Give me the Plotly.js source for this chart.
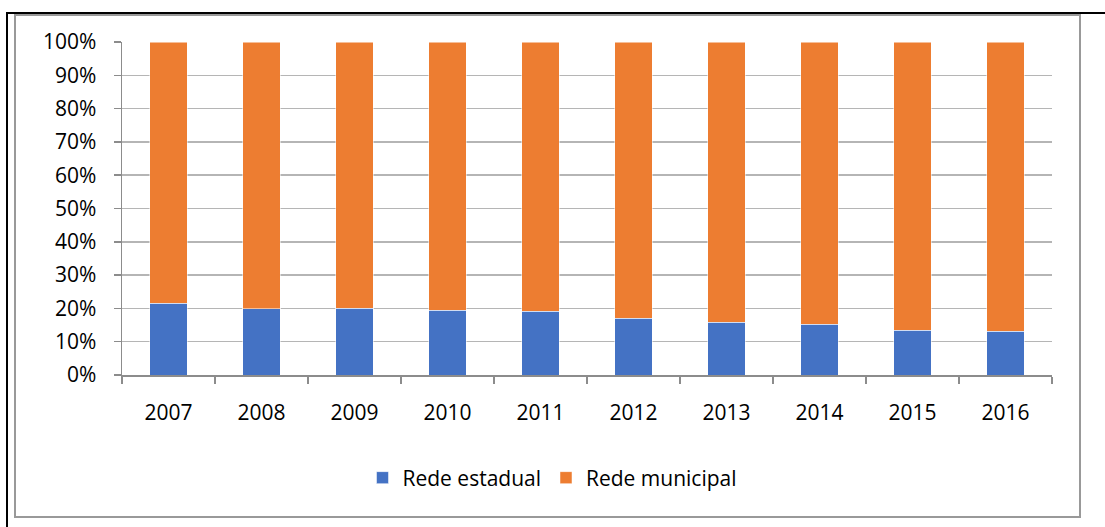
<!DOCTYPE html>
<html>
<head>
<meta charset="utf-8">
<script src="https://cdn.plot.ly/plotly-3.0.1.min.js"></script>
<style>
  html, body { margin: 0; padding: 0; background: #fff; }
  #wrap { position: relative; width: 1105px; height: 527px; overflow: hidden; }
  #chart { position: absolute; left: 0; top: 0; width: 1105px; height: 527px; }
  #outer { position: absolute; left: 6px; top: 12px; width: 1110px; height: 530px;
           border-left: 2px solid #000; border-top: 2px solid #000; pointer-events: none; }
  #inner { position: absolute; left: 14px; top: 14px; width: 1063px; height: 500px;
           border: 2px solid #999; pointer-events: none; }
</style>
</head>
<body>
<div id="wrap">
  <div id="chart"></div>
  <div id="outer"></div>
  <div id="inner"></div>
</div>
<script>
const years = ['2007','2008','2009','2010','2011','2012','2013','2014','2015','2016'];
const redeEstadual = [0.215, 0.199, 0.201, 0.194, 0.192, 0.170, 0.158, 0.152, 0.134, 0.131];
const redeMunicipal = redeEstadual.map(v => 1 - v);
const seriesNames = ['Rede estadual', 'Rede municipal'];
const yTickVals = [0,0.1,0.2,0.3,0.4,0.5,0.6,0.7,0.8,0.9,1.0];

const font = "'Open Sans', 'Noto Sans', sans-serif";

const data = [
  { type: 'bar', name: seriesNames[0], x: years, y: redeEstadual,
    marker: { color: '#4472C4', line: { color: 'rgba(255,255,255,0.5)', width: 1 } }, hoverinfo: 'skip' },
  { type: 'bar', name: seriesNames[1], x: years, y: redeMunicipal,
    marker: { color: '#ED7D31', line: { color: 'rgba(255,255,255,0.5)', width: 1 } }, hoverinfo: 'skip' }
];

const layout = {
  width: 1105, height: 527,
  margin: { l: 122, r: 53, t: 42, b: 152 },
  barmode: 'stack',
  bargap: 0.6,
  paper_bgcolor: '#fff', plot_bgcolor: '#fff',
  font: { family: font, size: 21, color: '#000' },
  showlegend: true,
  legend: {
    orientation: 'h', xref: 'container', yref: 'container',
    x: 0.5, xanchor: 'center', y: 0.093, yanchor: 'middle',
    font: { family: font, size: 21, color: '#000' },
    traceorder: 'normal', itemclick: false, itemdoubleclick: false
  },
  xaxis: {
    type: 'category', showgrid: false, showline: true, linecolor: '#8c8c8c', linewidth: 1.5,
    ticks: 'outside', tickson: 'boundaries', ticklen: 7, tickcolor: '#8c8c8c', tickwidth: 1.5,
    tickfont: { family: font, size: 21, color: '#000' }, ticklabelstandoff: 18,
    fixedrange: true
  },
  yaxis: {
    range: [0, 1], tickvals: yTickVals, tickformat: '.0%',
    showgrid: true, gridcolor: '#b5b5b5', gridwidth: 1.5,
    showline: true, linecolor: '#8c8c8c', linewidth: 1.5,
    ticks: 'outside', ticklen: 7, tickcolor: '#8c8c8c', tickwidth: 1.5,
    tickfont: { family: font, size: 21, color: '#000' }, ticklabelstandoff: 13,
    zeroline: false, fixedrange: true
  }
};

Plotly.newPlot('chart', data, layout, { displayModeBar: false, staticPlot: true });
</script>
</body>
</html>
